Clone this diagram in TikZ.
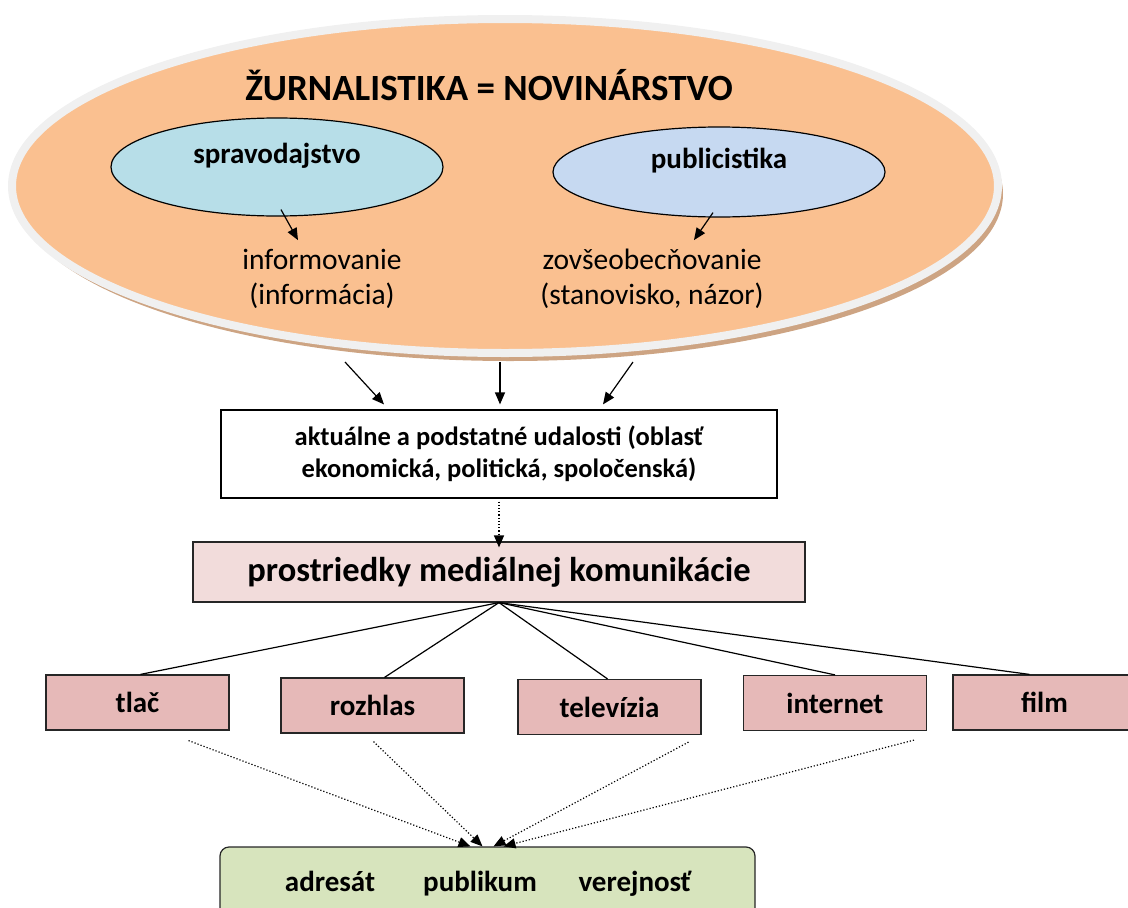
\documentclass[tikz,border=0pt]{standalone}
\usepackage{fontspec}
\setmainfont{Carlito}
\usetikzlibrary{shapes.geometric,shadows,arrows.meta}
\definecolor{orangefill}{HTML}{FAC090}
\definecolor{rimgray}{HTML}{F0F0F0}
\definecolor{shadowbrown}{HTML}{CDA483}
\definecolor{bluefill}{HTML}{B7DEE8}
\definecolor{lilacfill}{HTML}{C6D9F1}
\definecolor{pinkfill}{HTML}{F2DCDB}
\definecolor{rosefill}{HTML}{E6B9B8}
\definecolor{greenfill}{HTML}{D7E4BD}
\newcommand{\fs}[1]{\fontsize{#1}{1.2\dimexpr#1pt\relax}\selectfont}
\begin{document}
\begin{tikzpicture}[x=1pt, y=-1pt, >={Triangle[length=12pt,width=10pt]}, line width=1.2pt,
  main ellipse/.style={ellipse,draw=black,minimum width=332pt,inner sep=0pt},
  media box/.style={rectangle,draw=black!85,fill=rosefill,minimum width=183pt,minimum height=55pt,
    text height=26pt,text depth=6pt,font=\fs{29}\bfseries},
  plain text/.style={align=center,font=\fs{29.5}},
  crowd text/.style={anchor=base,font=\fs{29}\bfseries}]
\useasboundingbox (0,0) rectangle (1128,908);

% big ellipse
\node [ellipse,fill=orangefill,draw=rimgray,line width=8pt,minimum width=986pt,minimum height=334pt,
  drop shadow={shadow xshift=5pt,shadow yshift=-8pt,fill=shadowbrown,opacity=1}] (zurn) at (505,186) {};
\node [font=\fs{37}\bfseries] (title) at (489,85) {ŽURNALISTIKA = NOVINÁRSTVO};

\node [main ellipse,fill=bluefill,minimum height=98pt,label={[yshift=11pt,font=\fs{29}\bfseries]center:spravodajstvo}] (sprav) at (277,167) {};
\node [main ellipse,fill=lilacfill,minimum height=90pt,label={[yshift=11pt,font=\fs{29}\bfseries]center:publicistika}] (publ) at (719,172) {};

\node [plain text] (info) at (322,279) {informovanie\\(informácia)};
\node [plain text] (zovs) at (652,279) {zovšeobecňovanie\\(stanovisko, názor)};

\draw [->] ([shift={(4,-7)}]sprav.south) -- ([shift={(-24,-5)}]info.north);
\draw [->] ([shift={(-6,-5)}]publ.south) -- ([shift={(42,-5)}]zovs.north);

% middle
\node [rectangle,draw=black,fill=white,minimum width=556pt,minimum height=88pt,align=center,
  font=\fs{26.5}\bfseries] (udal) at (499,454) {aktuálne a podstatné udalosti (oblasť\\ekonomická, politická, spoločenská)};
\draw [->] ([shift={(-160,5)}]zurn.south) -- ([shift={(-115,-5)}]udal.north);
\draw [->] ([shift={(-5,5)}]zurn.south) -- ([shift={(1,-5)}]udal.north);
\draw [->] ([shift={(128,5)}]zurn.south) -- ([shift={(104,-5)}]udal.north);

\node [rectangle,draw=black!85,fill=pinkfill,minimum width=612pt,minimum height=60pt,
  font=\fs{34.5}\bfseries] (prost) at (499,572) {prostriedky mediálnej komunikácie};
\draw [->,dotted] ([yshift=-3pt]udal.south) -- ([yshift=-6pt]prost.north);

% media
\node [media box] (tlac) at (137.5,702.5) {tlač};
\node [media box] (rozh) at (372.5,705.5) {rozhlas};
\node [media box] (tele) at (609.5,707) {televízia};
\node [media box] (inte) at (835,703) {internet};
\node [media box] (film) at (1044.5,702.5) {film};

\foreach \m/\dx in {tlac/3,rozh/12,tele/-2,inte/0,film/-15}
  \draw (prost.south) -- ([xshift=\dx pt]\m.north);

% audience
\node [rectangle,rounded corners=9pt,draw=black!85,fill=greenfill,minimum width=535pt,minimum height=72pt] (adr) at (487.5,883) {};
\node [crowd text] (adrt) at (330,891) {adresát};
\node [crowd text] (publk) at (480,891) {publikum};
\node [crowd text] (verej) at (635,891) {verejnosť};

\draw [->,dotted] ([shift={(51,10)}]tlac.south) -- ([xshift=-17pt]adr.north);
\draw [->,dotted] ([shift={(1,8)}]rozh.south) -- ([xshift=-5pt]adr.north);
\draw [->,dotted] ([shift={(79,7)}]tele.south) -- ([xshift=6pt]adr.north);
\draw [->,dotted] ([shift={(79,9)}]inte.south) -- ([xshift=16pt]adr.north);
\end{tikzpicture}
\end{document}
